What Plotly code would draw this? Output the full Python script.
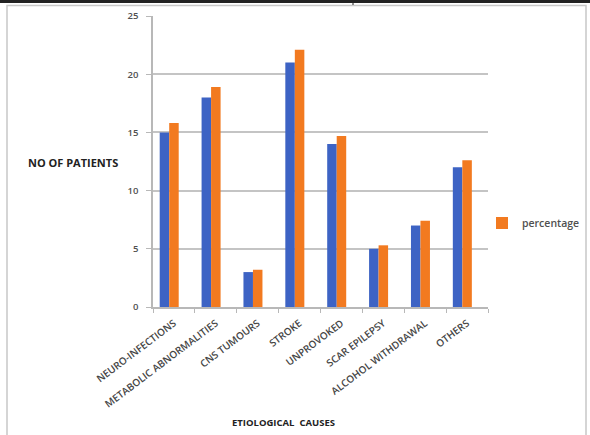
import plotly.graph_objects as go

# Etiological causes of seizures: patient counts and percentage share
causes = [
    "NEURO-INFECTIONS",
    "METABOLIC ABNORMALITIES",
    "CNS TUMOURS",
    "STROKE",
    "UNPROVOKED",
    "SCAR EPILEPSY",
    "ALCOHOL WITHDRAWAL",
    "OTHERS",
]
no_of_patients = [15, 18, 3, 21, 14, 5, 7, 12]
percentage = [15.8, 18.9, 3.2, 22.1, 14.7, 5.3, 7.4, 12.6]

BLUE = "#3d63c4"
ORANGE = "#f27a20"
FONT = "Open Sans"
W, H = 590, 435
L, R, T, B = 153, 488, 16, 307  # plot area in pixels


def px_x(px):
    return (px - L) / (R - L)


def px_y(py):
    return (B - py) / (B - T)


bar_w = 0.227

fig = go.Figure()
fig.add_trace(go.Bar(
    x=causes, y=no_of_patients, name="no of patients",
    marker=dict(color=BLUE, line=dict(width=0)),
    width=bar_w, offset=-0.34, showlegend=False,
))
fig.add_trace(go.Bar(
    x=causes, y=percentage, name="percentage",
    marker=dict(color=ORANGE, line=dict(width=0)),
    width=bar_w, offset=-0.113,
))

fig.update_layout(
    width=W, height=H,
    margin=dict(l=L, r=W - R, t=T, b=H - B, autoexpand=False),
    paper_bgcolor="white", plot_bgcolor="white",
    barmode="overlay",
    font=dict(family=FONT, color="#555555"),
    hovermode=False,
    legend=dict(
        x=px_x(482), y=px_y(223), xanchor="left", yanchor="middle",
        font=dict(size=10.5, color="#505050", family=FONT, weight=600),
        bgcolor="rgba(0,0,0,0)", itemwidth=30,
    ),
    xaxis=dict(
        type="category", range=[-0.5, 7.5], automargin=False,
        showline=True, linecolor="#b8b8b8", linewidth=1.5,
        ticks="outside", tickson="boundaries", ticklen=4, tickcolor="#b8b8b8",
        tickangle=-37,
        tickfont=dict(size=10, color="#454545", family=FONT, weight=600),
        ticklabelstandoff=5,
        showgrid=False,
    ),
    yaxis=dict(
        range=[0, 25], tick0=0, dtick=5, automargin=False,
        showline=True, linecolor="#b8b8b8", linewidth=1.5,
        ticks="outside", ticklen=5, tickcolor="#b8b8b8",
        tickfont=dict(size=9.5, color="#505050", family=FONT, weight=600),
        ticklabelstandoff=6,
        showgrid=True, gridcolor="#c4c4c4", gridwidth=1.5,
        zeroline=False,
    ),
    annotations=[
        dict(text="<b>NO OF PATIENTS</b>", xref="paper", yref="paper",
             x=px_x(73), y=px_y(162), xanchor="center", yanchor="middle",
             showarrow=False,
             font=dict(size=11, color="#222222", family=FONT)),
        dict(text="<b>ETIOLOGICAL  CAUSES</b>", xref="paper", yref="paper",
             x=px_x(283), y=px_y(422), xanchor="center", yanchor="middle",
             showarrow=False,
             font=dict(size=9.5, color="#222222", family=FONT)),
    ],
    shapes=[
        # outer frame
        dict(type="rect", xref="paper", yref="paper",
             x0=px_x(7), x1=px_x(586), y0=px_y(445), y1=px_y(5.5),
             line=dict(color="#c8c8c8", width=1.5), fillcolor="rgba(0,0,0,0)", layer="below"),
        # heavy rule along the top edge
        dict(type="rect", xref="paper", yref="paper",
             x0=px_x(-2), x1=px_x(592), y0=px_y(3), y1=px_y(-2),
             line=dict(width=0), fillcolor="#222222"),
        dict(type="line", xref="paper", yref="paper",
             x0=px_x(353), x1=px_x(353), y0=px_y(0), y1=px_y(5),
             line=dict(color="#222222", width=1)),
    ],
)

fig.write_html("out.html")
